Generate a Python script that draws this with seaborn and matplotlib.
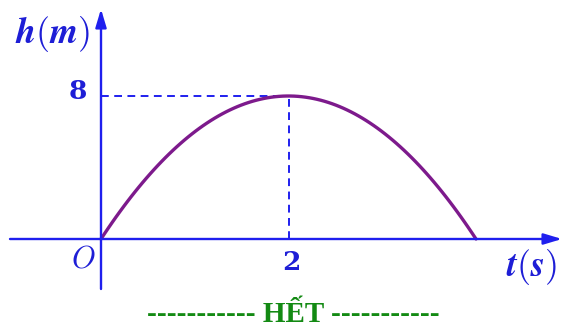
import matplotlib
matplotlib.use("Agg")
import matplotlib.pyplot as plt
import seaborn as sns
import pandas as pd

# values
t_values = [0.0, 0.5, 1.0, 1.5, 2.0, 2.5, 3.0, 3.5, 4.0]
h_values = [0.0, 3.5, 6.0, 7.5, 8.0, 7.5, 6.0, 3.5, 0.0]
peak_t = 2
peak_h = 8
x_label = r"$\boldsymbol{t}\mathbf{(}\boldsymbol{s}\mathbf{)}$"
y_label = r"$\boldsymbol{h}\mathbf{(}\boldsymbol{m}\mathbf{)}$"
footer = "----------- HẾT -----------"

sns.set_style("white")
plt.rcParams["mathtext.fontset"] = "cm"
plt.rcParams["font.family"] = ["DejaVu Serif"]

W, H = 563, 329
fig = plt.figure(figsize=(W / 100, H / 100), dpi=100)
ax = fig.add_axes([0, 0, 1, 1])

# pixel mapping: t=0 -> x=101, t=4 -> x=476 ; h=0 -> y=239, h=8 -> y=96
px_t = (476 - 101) / 4.0
px_h = (239 - 96) / 8.0
ax.set_xlim(-101 / px_t, (W - 101) / px_t)
ax.set_ylim(-(H - 239) / px_h, 239 / px_h)
ax.axis("off")

df = pd.DataFrame({"t": t_values, "h": h_values})
axis_col = "#1f1fee"
curve_col = "#7d1a8c"
text_col = "#1e1ed6"

x0, x1 = ax.get_xlim()
y0, y1 = ax.get_ylim()
arrow = "-|>,head_length=1.1,head_width=0.33"
ax.annotate("", xy=((562 - 101) / px_t, 0), xytext=((10 - 101) / px_t, 0),
            arrowprops=dict(arrowstyle=arrow, color=axis_col, lw=1.7, shrinkA=0, shrinkB=0))
ax.annotate("", xy=(0, (239 - 9) / px_h), xytext=(0, (239 - 289) / px_h),
            arrowprops=dict(arrowstyle=arrow, color=axis_col, lw=1.7, shrinkA=0, shrinkB=0))

# dashed guides
ax.plot([0, peak_t], [peak_h, peak_h], ls=(0, (4, 2.8)), color=axis_col, lw=1.4)
ax.plot([peak_t, peak_t], [0, peak_h], ls=(0, (4, 2.8)), color=axis_col, lw=1.4)

# curve
sns.regplot(data=df, x="t", y="h", order=2, ci=None, scatter=False, ax=ax,
            line_kws=dict(color=curve_col, lw=2.4), truncate=True)
ax.axis("off")
ax.set_xlim(x0, x1)
ax.set_ylim(y0, y1)

def fx(x):
    return x / W
def fy(y):
    return 1 - y / H

fig.text(fx(53), fy(34), y_label, color=text_col, fontsize=26, ha="center", va="center")
fig.text(fx(78), fy(92), str(peak_h), color=text_col, fontsize=19, fontweight="bold",
         family=["DejaVu Serif"], ha="center", va="center")
fig.text(fx(83), fy(259), r"$O$", color=text_col, fontsize=22, ha="center", va="center")
fig.text(fx(291), fy(263), str(peak_t), color=text_col, fontsize=19, fontweight="bold",
         family=["DejaVu Serif"], ha="center", va="center")
fig.text(fx(532), fy(267), x_label, color=text_col, fontsize=26, ha="center", va="center")
fig.text(fx(293), fy(315), footer, color="#138a13", fontsize=21, ha="center", va="center",
         family=["Liberation Serif"], fontweight="bold")

fig.savefig("out.png", dpi=100)
